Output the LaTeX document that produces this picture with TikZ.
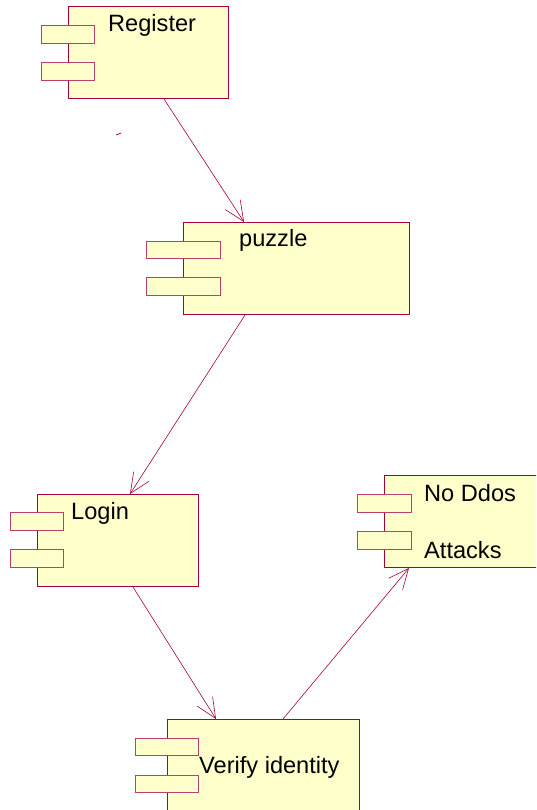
\documentclass[tikz,border=0pt]{standalone}
\usepackage{fontspec}
\setmainfont{Liberation Sans}
\usetikzlibrary{arrows.meta,calc}
\definecolor{compfill}{HTML}{FFFFCC}
\definecolor{compline}{HTML}{A3003C}
\definecolor{tabline}{HTML}{B8406A}
\begin{document}
\begin{tikzpicture}[x=1pt,y=-1pt,
  comp/.style={draw=compline,fill=compfill,line width=1pt,inner sep=0pt,
    anchor=north west,minimum height=92pt},
  tab/.style={draw=tabline,fill=compfill,line width=1pt,inner sep=0pt,
    anchor=north west,minimum height=18pt},
  lbl/.style={anchor=base west,inner sep=0pt,font=\fontsize{23.6}{28}\selectfont},
  dep/.style={draw=compline,line width=0.6pt,-{Straight Barb[length=20pt,width=18pt,line width=0.6pt]}}]
\useasboundingbox (0,0) rectangle (536,810);
\clip (0,0) rectangle (536,810);

% components
\node[comp,minimum width=160pt] (reg) at (68,6) {};
\node[tab,minimum width=53pt] (regA) at (41,25) {};
\node[tab,minimum width=53pt] (regB) at (41,62) {};
\node[lbl] (regT) at (108,32) {Register};

\node[comp,minimum width=226pt] (puz) at (183,222) {};
\node[tab,minimum width=74pt,minimum height=17pt] (puzA) at (146,241) {};
\node[tab,minimum width=74pt] (puzB) at (146,277) {};
\node[lbl] (puzT) at (239,247) {puzzle};

\node[comp,minimum width=161pt] (log) at (37,494) {};
\node[tab,minimum width=53pt] (logA) at (10,512) {};
\node[tab,minimum width=53pt] (logB) at (10,549) {};
\node[lbl] (logT) at (71,519) {Login};

\node[comp,minimum width=180pt] (nod) at (384,475) {};
\node[tab,minimum width=54pt] (nodA) at (357,494) {};
\node[tab,minimum width=54pt] (nodB) at (357,531) {};
\node[lbl] (nodT) at (424,501) {No Ddos};
\node[lbl] (nodU) at (424,558) {Attacks};

\node[comp,minimum width=192pt,minimum height=110pt] (ver) at (167,719) {};
\node[tab,minimum width=63pt,minimum height=17pt] (verA) at (135,738) {};
\node[tab,minimum width=63pt,minimum height=17pt] (verB) at (135,775) {};
\node[lbl] (verT) at (199,773) {Verify identity};

% dependencies
\draw[dep] ($(reg.south west)+(96,0)$) -- ($(puz.north west)+(61,0)$);
\draw[dep] ($(puz.south west)+(62,0)$) -- ($(log.north west)+(93,0)$);
\draw[dep] ($(log.south west)+(96,0)$) -- ($(ver.north west)+(49,0)$);
\draw[dep] ($(ver.north west)+(116,0)$) -- ($(nod.south west)+(25,0)$);

% small stray stroke
\draw[compline,line width=0.8pt] (116,135) -- (121,133);
\end{tikzpicture}
\end{document}
